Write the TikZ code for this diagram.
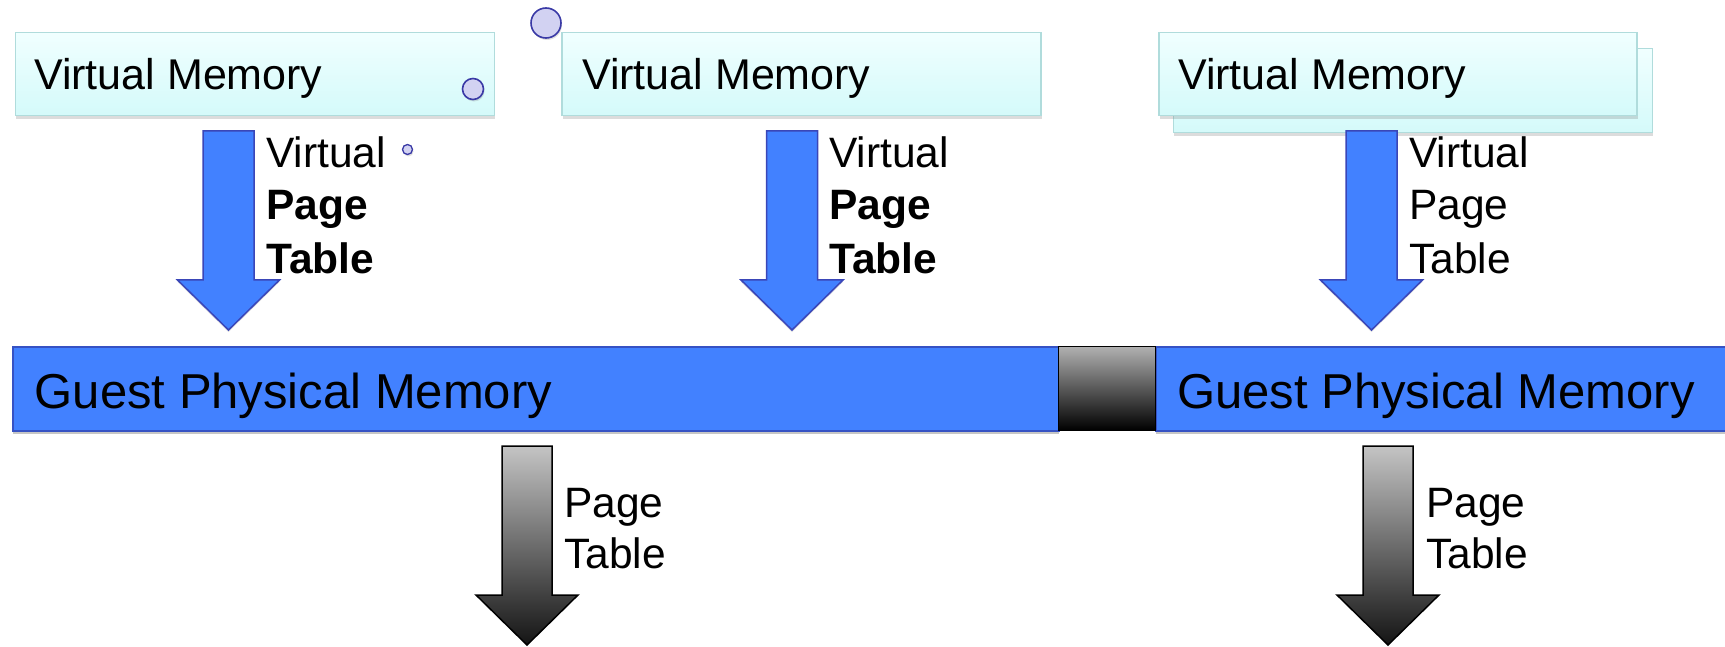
\documentclass[tikz,border=0pt]{standalone}
\usepackage{fontspec}
\setmainfont{Liberation Sans}
\usetikzlibrary{shadows}

\definecolor{vmtop}{HTML}{F0FFFF}
\definecolor{vmbottom}{HTML}{D4FAFA}
\definecolor{vmedge}{HTML}{B0DCDC}
\definecolor{gpblue}{HTML}{4281FF}
\definecolor{gpedge}{HTML}{3652C4}
\definecolor{arrowedge}{HTML}{3A46B8}
\definecolor{dotfill}{HTML}{D2D2F2}
\definecolor{dotedge}{HTML}{3A3AA6}
\definecolor{greytop}{HTML}{C4C4C4}
\definecolor{greybottom}{HTML}{141414}

\begin{document}
\begin{tikzpicture}[x=1pt,y=-1pt,
  vmbox/.style={draw=vmedge, line width=1.5pt, top color=vmtop, bottom color=vmbottom,
    inner sep=0pt, anchor=north west,
    drop shadow={shadow xshift=1pt, shadow yshift=-3pt, opacity=0.28}},
  gpbar/.style={draw=gpedge, line width=1.5pt, fill=gpblue, inner sep=0pt, anchor=north west,
    drop shadow={shadow xshift=0pt, shadow yshift=-3pt, opacity=0.45}},
  gapbox/.style={draw=black, line width=1pt, top color=greytop!90!black, bottom color=black,
    inner sep=0pt, anchor=north west},
  bluearrow/.style={draw=arrowedge, line width=1.5pt, fill=gpblue, line join=miter,
    drop shadow={shadow xshift=0pt, shadow yshift=-2pt, opacity=0.25}},
  greyarrow/.style={draw=black, line width=1.5pt, top color=greytop, bottom color=greybottom, line join=miter},
  vmtext/.style={anchor=base west, inner sep=0pt, font=\fontsize{43}{52}\selectfont},
  gptext/.style={anchor=base west, inner sep=0pt, font=\fontsize{49}{58}\selectfont},
  lbl/.style={anchor=base west, inner sep=0pt, font=\fontsize{42.5}{52}\selectfont},
  lblb/.style={lbl, font=\fontsize{42.5}{52}\selectfont\bfseries},
  dot/.style={circle, draw=dotedge, fill=dotfill, line width=1.6pt, inner sep=0pt,
    drop shadow={shadow xshift=1pt, shadow yshift=-2pt, opacity=0.25}}
]
\useasboundingbox (0,0) rectangle (1725,647);

% virtual memory boxes (the third one is a stack of two)
\node[vmbox, minimum width=479pt, minimum height=83pt] (vm1) at (14.5,32) {};
\node[vmbox, minimum width=479pt, minimum height=83pt] (vm2) at (561,32) {};
\node[vmbox, minimum width=479pt, minimum height=84pt] (vm3b) at (1172.5,48) {};
\node[vmbox, minimum width=478pt, minimum height=83pt] (vm3) at (1158,32) {};

\node[vmtext] (vm1t) at (34,90) {Virtual Memory};
\node[vmtext] (vm2t) at (582,90) {Virtual Memory};
\node[vmtext] (vm3t) at (1178,90) {Virtual Memory};

% small marker circles
\node[dot, minimum size=21pt] (d1) at (473,89) {};
\node[dot, minimum size=30pt] (d2) at (546,23) {};
\node[dot, minimum size=10pt, line width=1.3pt] (d3) at (407.5,149.5) {};

% blue block arrows: virtual -> guest physical
\foreach \c in {228.5, 792, 1371.5}{
  \path[bluearrow] ({\c-25.5},131) -- ({\c+25.5},131) -- ({\c+25.5},280) -- ({\c+51},280)
    -- (\c,330) -- ({\c-51},280) -- ({\c-25.5},280) -- cycle;
}

\node[lbl]  (a1l1) at (266,168) {Virtual};
\node[lblb] (a1l2) at (266,220) {Page};
\node[lblb] (a1l3) at (266,273) {Table};

\node[lbl]  (a2l1) at (829,168) {Virtual};
\node[lblb] (a2l2) at (829,220) {Page};
\node[lblb] (a2l3) at (829,273) {Table};

\node[lbl] (a3l1) at (1409,168) {Virtual};
\node[lbl] (a3l2) at (1409,220) {Page};
\node[lbl] (a3l3) at (1409,273) {Table};

% guest physical memory bars with the gap between them
\node[gpbar, minimum width=1046pt, minimum height=84pt] (gp1) at (12,346) {};
\node[gpbar, minimum width=590pt, minimum height=84pt] (gp2) at (1155,346) {};
\node[gapbox, minimum width=97pt, minimum height=84pt] (gap) at (1058,346) {};

\node[gptext] (gp1t) at (34.5,408) {Guest Physical Memory};
\node[gptext] (gp2t) at (1177,408) {Guest Physical Memory};

% grey block arrows: guest physical -> machine
\foreach \c in {527, 1388}{
  \path[greyarrow] ({\c-25},446) -- ({\c+25},446) -- ({\c+25},595) -- ({\c+51},595)
    -- (\c,645) -- ({\c-51},595) -- ({\c-25},595) -- cycle;
}

\node[lbl] (g1l1) at (564,517) {Page};
\node[lbl] (g1l2) at (564,568) {Table};
\node[lbl] (g2l1) at (1426,517) {Page};
\node[lbl] (g2l2) at (1426,568) {Table};

\end{tikzpicture}
\end{document}
